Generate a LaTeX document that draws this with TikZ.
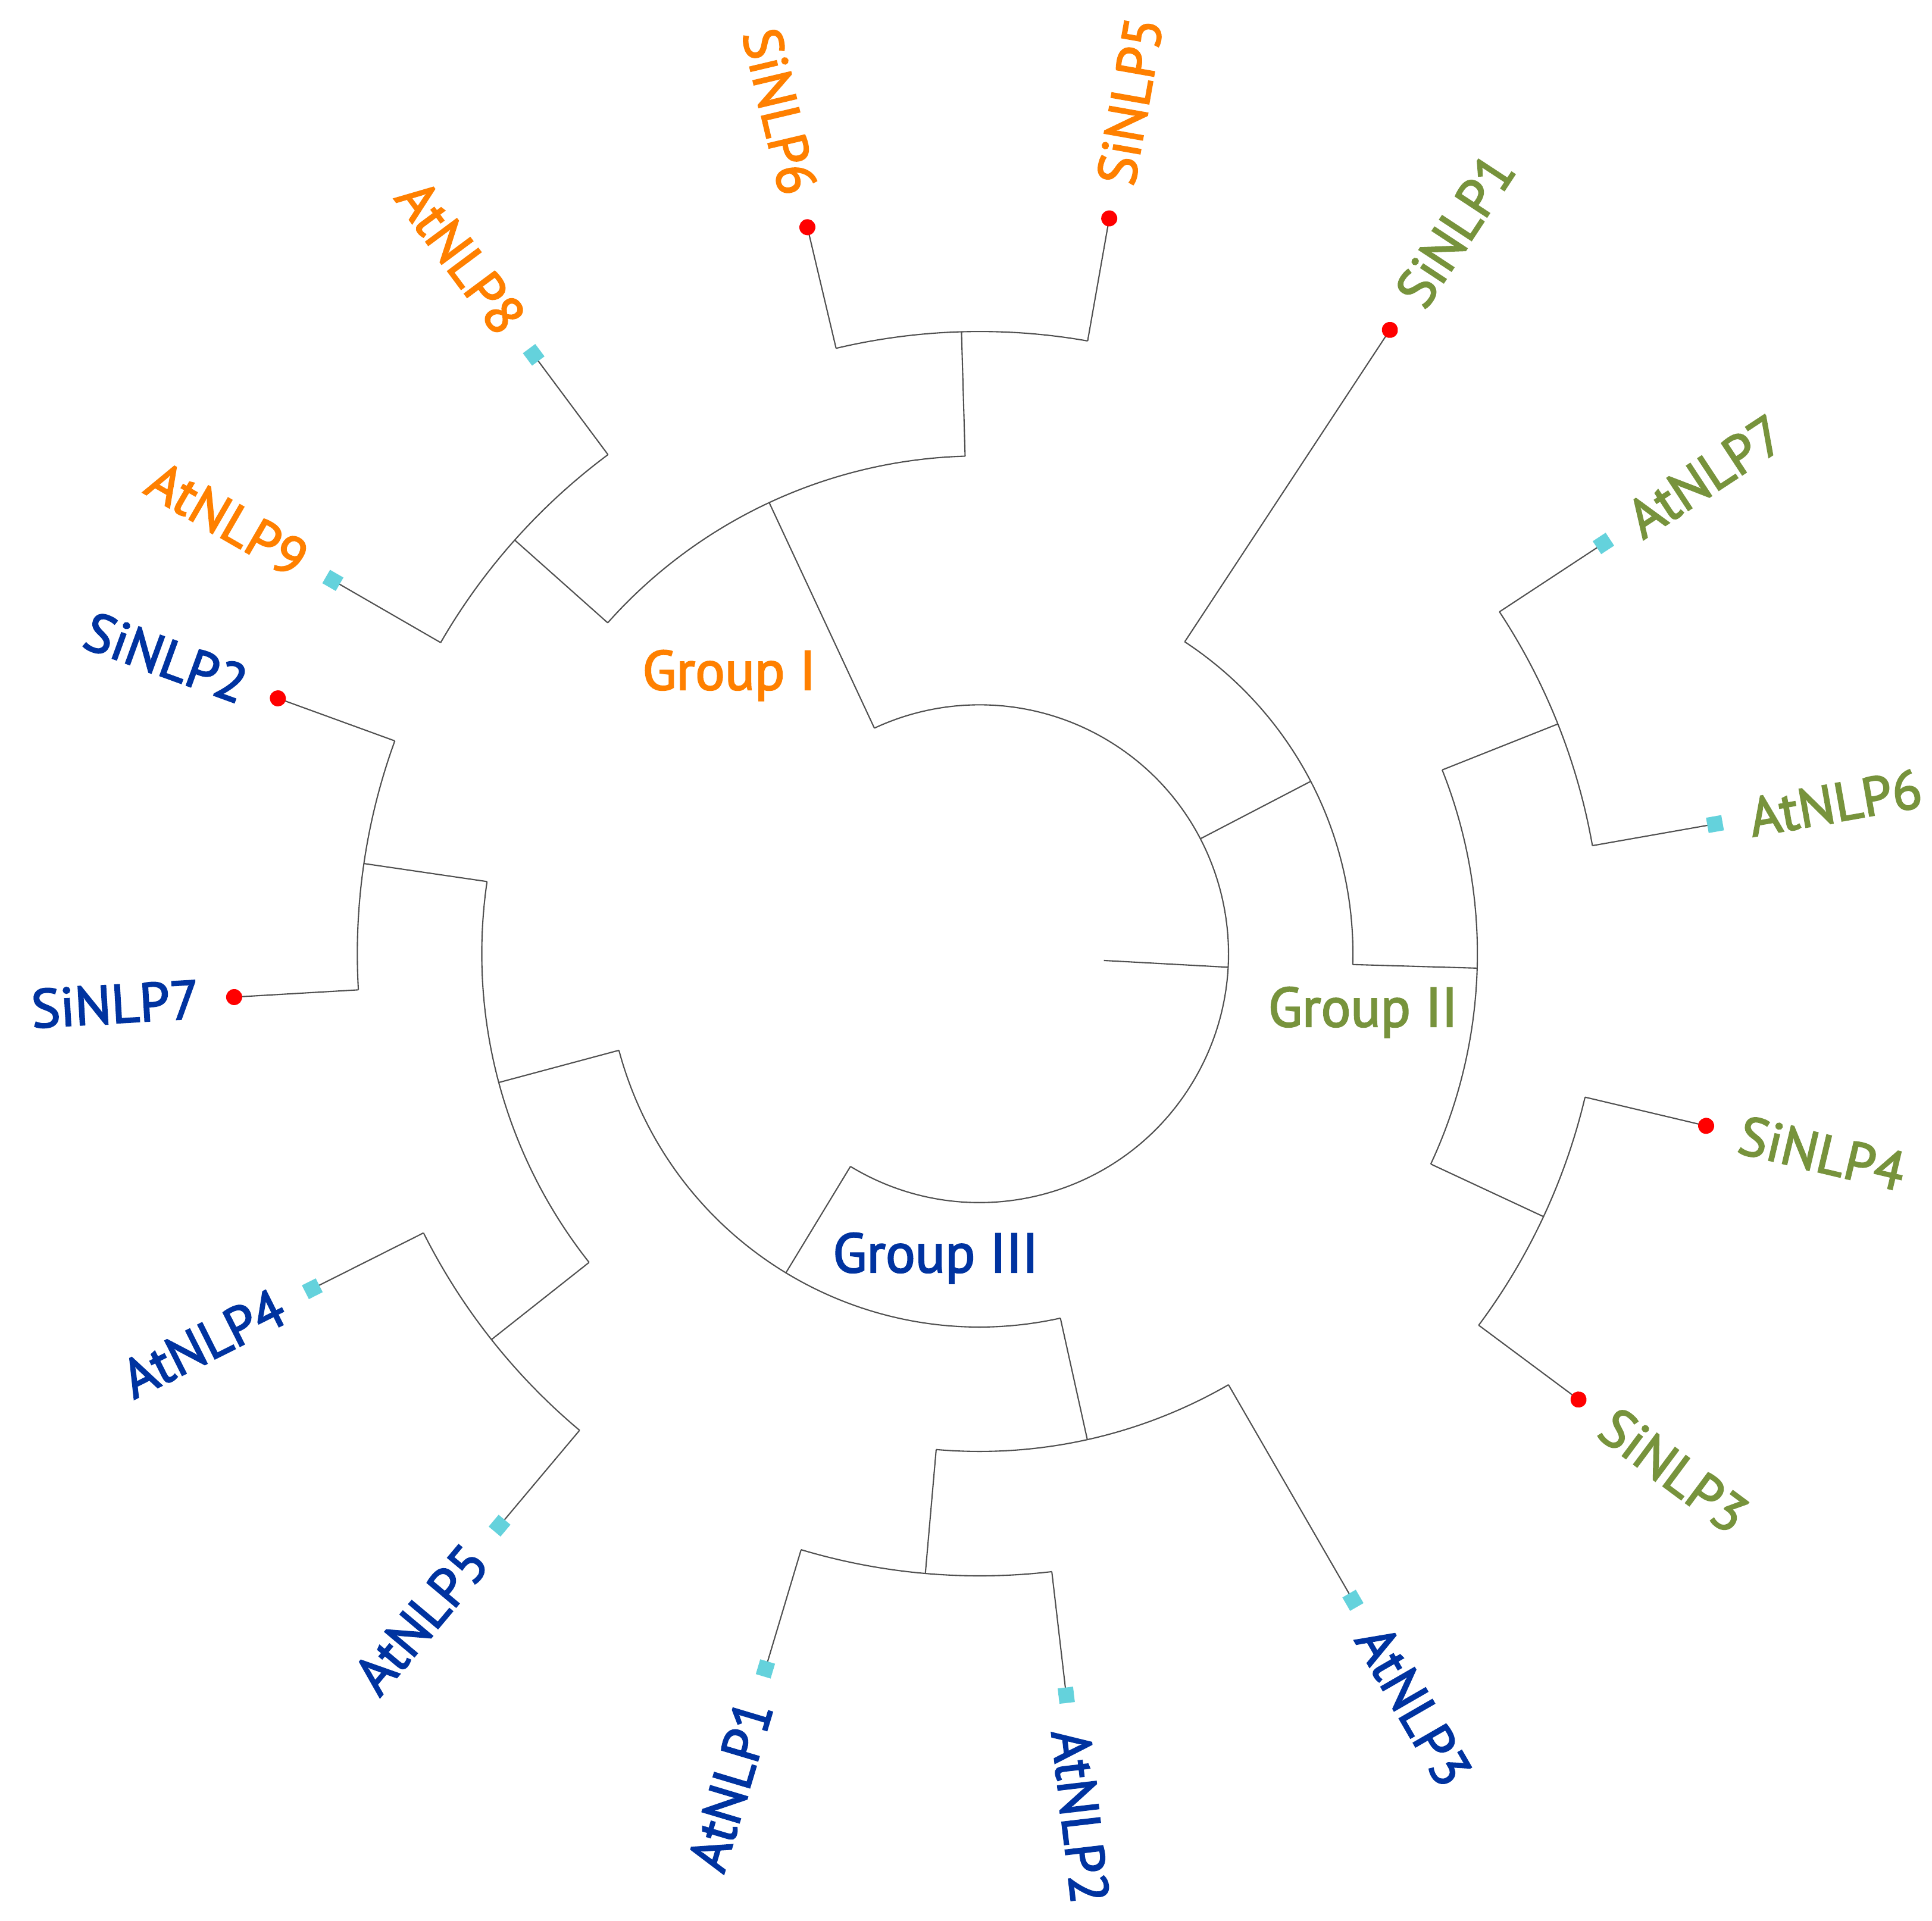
\documentclass[tikz,border=0pt]{standalone}
\usepackage{fontspec}
\setmainfont{PT Sans}
\newfontfamily\lblfont{PT Sans}[FakeBold=2.5]
\definecolor{gone}{RGB}{255,128,0}
\definecolor{gtwo}{RGB}{119,147,60}
\definecolor{gthree}{RGB}{0,51,160}
\definecolor{dotred}{RGB}{255,0,0}
\definecolor{sqcyan}{RGB}{100,210,220}
\definecolor{linegray}{RGB}{80,80,80}
\newcommand\uu{2.091}
% tree edge: name, angle, inner radius level, outer radius level
\newcommand\tedge[4]{%
  \coordinate (#1-b) at (#2:{#3*\uu});
  \coordinate (#1) at (#2:{#4*\uu});
  \draw[br] (#1-b) -- (#1);}
% arc: start coordinate, start angle, end angle, radius level
\newcommand\tarc[4]{%
  \draw[br] (#1) arc[start angle=#2, end angle=#3, radius={#4*\uu}];}
% leaf: name, angle, text, colour, marker style, flip
\newcommand\tleaf[6]{%
  \node[#5, rotate=#2] (#1-m) at (#2:{6*\uu}) {};
  \ifnum#6=0
    \node[leaf, text=#4, rotate=#2, anchor=west] (#1-t) at (#2:{6*\uu+0.58}) {#3};
  \else
    \node[leaf, text=#4, rotate=#2-180, anchor=east] (#1-t) at (#2:{6*\uu+0.58}) {#3};
  \fi}
\begin{document}
\begin{tikzpicture}[
  br/.style={draw=linegray, line width=0.6pt},
  reddot/.style={circle, fill=dotred, inner sep=0pt, minimum size=0.27cm},
  cyansq/.style={rectangle, fill=sqcyan, inner sep=0pt, minimum size=0.26cm},
  leaf/.style={font=\lblfont\fontsize{26}{30}\selectfont, inner sep=0pt},
  grp/.style={font=\lblfont\fontsize{26.5}{30}\selectfont, inner sep=0pt, anchor=base}
]
\useasboundingbox[fill=white] (0,0) rectangle (32.46,32.28);
\begin{scope}[shift={(16.458,16.254)}]
% root
\tedge{root}{-3.125}{1}{2}
\tedge{gI}{115}{2}{4}
\tedge{gII}{27.5}{2}{3}
\tedge{gIII}{-121.25}{2}{3}
\tarc{gIII-b}{-121.25}{115}{2}
% Group I
\tedge{nA}{91.667}{4}{5}
\tedge{nB}{138.333}{4}{5}
\tarc{nA-b}{91.667}{138.333}{4}
\tedge{SiNLP5}{80}{5}{6}
\tedge{SiNLP6}{103.333}{5}{6}
\tarc{SiNLP5-b}{80}{103.333}{5}
\tedge{AtNLP8}{126.667}{5}{6}
\tedge{AtNLP9}{150}{5}{6}
\tarc{AtNLP8-b}{126.667}{150}{5}
% Group II
\tedge{SiNLP1}{56.667}{3}{6}
\tedge{nE}{-1.667}{3}{4}
\tarc{nE-b}{-1.667}{56.667}{3}
\tedge{nC}{21.667}{4}{5}
\tedge{nD}{-25}{4}{5}
\tarc{nD-b}{-25}{21.667}{4}
\tedge{AtNLP6}{10}{5}{6}
\tedge{AtNLP7}{33.333}{5}{6}
\tarc{AtNLP6-b}{10}{33.333}{5}
\tedge{SiNLP3}{-36.667}{5}{6}
\tedge{SiNLP4}{-13.333}{5}{6}
\tarc{SiNLP3-b}{-36.667}{-13.333}{5}
% Group III
\tedge{nH}{195}{3}{4}
\tedge{nJ}{282.5}{3}{4}
\tarc{nH-b}{195}{282.5}{3}
\tedge{nF}{171.667}{4}{5}
\tedge{nG}{218.333}{4}{5}
\tarc{nF-b}{171.667}{218.333}{4}
\tedge{SiNLP2}{160}{5}{6}
\tedge{SiNLP7}{183.333}{5}{6}
\tarc{SiNLP2-b}{160}{183.333}{5}
\tedge{AtNLP4}{206.667}{5}{6}
\tedge{AtNLP5}{230}{5}{6}
\tarc{AtNLP4-b}{206.667}{230}{5}
\tedge{nI}{265}{4}{5}
\tedge{AtNLP3}{300}{4}{6}
\tarc{nI-b}{265}{300}{4}
\tedge{AtNLP1}{253.333}{5}{6}
\tedge{AtNLP2}{276.667}{5}{6}
\tarc{AtNLP1-b}{253.333}{276.667}{5}
% leaves
\tleaf{lSiNLP5}{80}{SiNLP5}{gone}{reddot}{0}
\tleaf{lSiNLP6}{103.333}{SiNLP6}{gone}{reddot}{1}
\tleaf{lAtNLP8}{126.667}{AtNLP8}{gone}{cyansq}{1}
\tleaf{lAtNLP9}{150}{AtNLP9}{gone}{cyansq}{1}
\tleaf{lSiNLP1}{56.667}{SiNLP1}{gtwo}{reddot}{0}
\tleaf{lAtNLP7}{33.333}{AtNLP7}{gtwo}{cyansq}{0}
\tleaf{lAtNLP6}{10}{AtNLP6}{gtwo}{cyansq}{0}
\tleaf{lSiNLP4}{-13.333}{SiNLP4}{gtwo}{reddot}{0}
\tleaf{lSiNLP3}{-36.667}{SiNLP3}{gtwo}{reddot}{0}
\tleaf{lSiNLP2}{160}{SiNLP2}{gthree}{reddot}{1}
\tleaf{lSiNLP7}{183.333}{SiNLP7}{gthree}{reddot}{1}
\tleaf{lAtNLP4}{206.667}{AtNLP4}{gthree}{cyansq}{1}
\tleaf{lAtNLP5}{230}{AtNLP5}{gthree}{cyansq}{1}
\tleaf{lAtNLP1}{253.333}{AtNLP1}{gthree}{cyansq}{1}
\tleaf{lAtNLP2}{-83.333}{AtNLP2}{gthree}{cyansq}{0}
\tleaf{lAtNLP3}{-60}{AtNLP3}{gthree}{cyansq}{0}
\end{scope}
\node[grp, text=gone] (tI) at (12.25,20.69) {Group I};
\node[grp, text=gtwo] (tII) at (22.90,15.03) {Group II};
\node[grp, text=gthree] (tIII) at (15.72,10.90) {Group III};
\end{tikzpicture}
\end{document}
